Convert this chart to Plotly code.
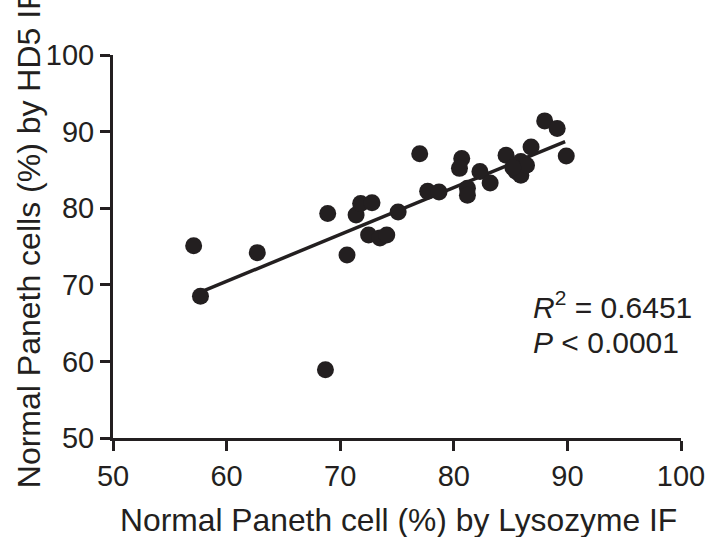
import plotly.graph_objects as go

lyz_x = [57.1, 57.7, 62.7, 68.9, 68.7, 70.6, 71.4, 71.8, 72.8, 72.5, 73.5, 74.1,
         75.1, 77.0, 77.7, 78.7, 80.7, 80.5, 81.2, 81.2, 82.3, 83.2, 84.6, 85.5,
         85.9, 85.9, 86.4, 85.2, 86.8, 88.0, 89.1, 89.9]
hd5_y = [75.1, 68.5, 74.2, 79.3, 58.9, 73.9, 79.1, 80.6, 80.7, 76.5, 76.1, 76.5,
         79.5, 87.1, 82.2, 82.1, 86.5, 85.2, 82.6, 81.7, 84.8, 83.3, 86.9, 84.8,
         84.3, 86.1, 85.6, 85.3, 88.0, 91.4, 90.4, 86.8]
fit_x = [57.8, 89.8]
fit_y = [69.1, 88.7]
ticks = [50, 60, 70, 80, 90, 100]

ink = "#231f20"
font = "Liberation Sans, Arial, sans-serif"

fig = go.Figure()
fig.add_trace(go.Scatter(x=fit_x, y=fit_y, mode="lines",
                         line=dict(color=ink, width=3.5), showlegend=False,
                         cliponaxis=False))
fig.add_trace(go.Scatter(x=lyz_x, y=hd5_y, mode="markers",
                         marker=dict(color=ink, size=17, line=dict(width=0)),
                         showlegend=False, cliponaxis=False))

axis_common = dict(showgrid=False, zeroline=False, showline=True, linecolor=ink,
                   linewidth=3, ticks="outside", ticklen=10, tickwidth=3,
                   tickcolor=ink, tickvals=ticks, ticklabeloverflow="allow",
                   tickfont=dict(family=font, size=29, color=ink))
fig.update_layout(
    width=717, height=537,
    margin=dict(l=113, r=29, t=55, b=99),
    paper_bgcolor="white", plot_bgcolor="white",
    xaxis=dict(range=[50, 100], **axis_common),
    yaxis=dict(range=[50, 100], **axis_common),
    annotations=[
        dict(text="Normal Paneth cell (%) by Lysozyme IF", xref="paper", yref="paper",
             x=0.502, y=-0.214, xanchor="center", yanchor="middle", showarrow=False,
             font=dict(family=font, size=31.8, color=ink)),
        dict(text="Normal Paneth cells (%) by HD5 IF", xref="paper", yref="paper",
             x=-0.149, y=0.52, xanchor="center", yanchor="middle", textangle=-90,
             showarrow=False, font=dict(family=font, size=32, color=ink)),
        dict(text="<i>R</i><sup>2</sup> = 0.6451", xref="x", yref="y",
             x=86.8, y=67.4, xanchor="left", yanchor="middle", showarrow=False,
             font=dict(family=font, size=30, color=ink)),
        dict(text="<i>P</i> < 0.0001", xref="x", yref="y",
             x=86.8, y=62.5, xanchor="left", yanchor="middle", showarrow=False,
             font=dict(family=font, size=30, color=ink)),
    ],
)
fig.write_html(
    "out.html",
    config={"displayModeBar": False},
    post_script=(
        "document.body.style.margin='0';"
        "document.body.style.overflow='hidden';"
        "document.documentElement.style.overflow='hidden';"
    ),
)
